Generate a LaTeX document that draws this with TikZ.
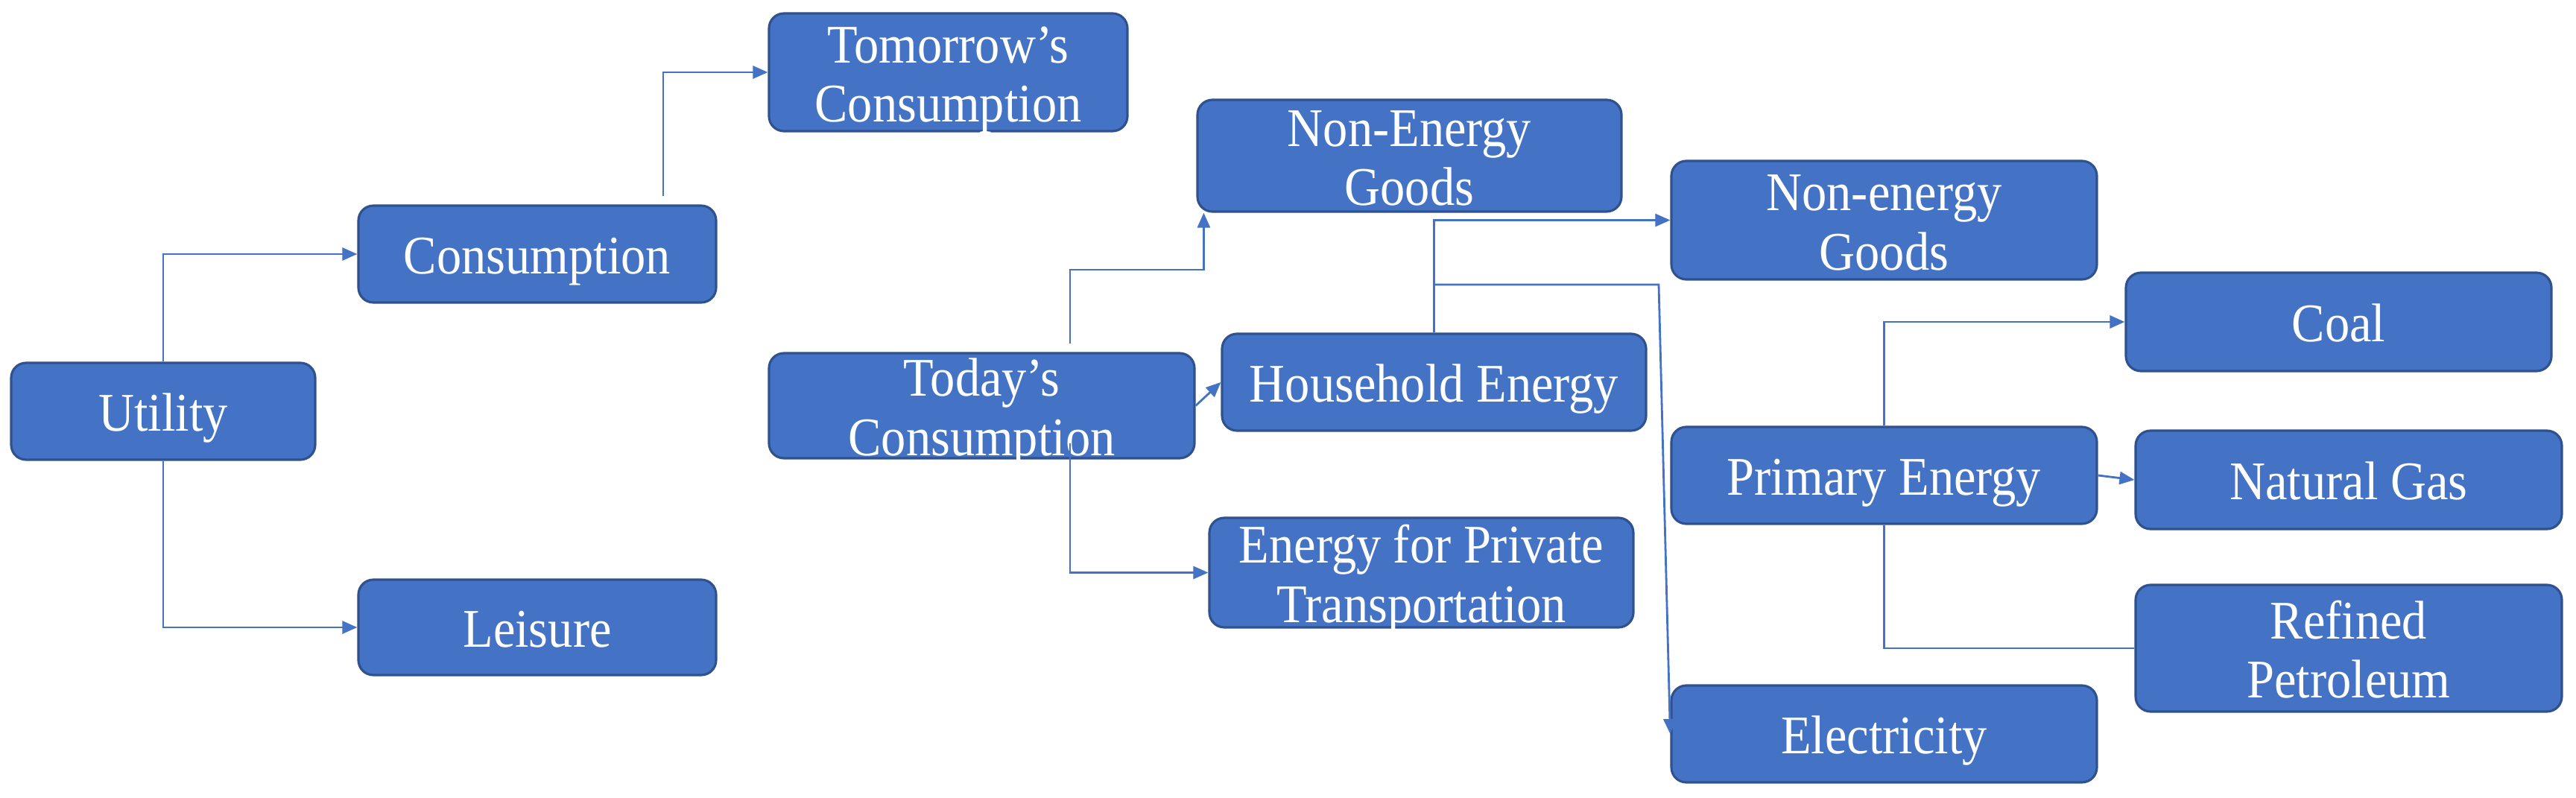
\documentclass[tikz,border=0pt]{standalone}
\usepackage{fontspec}
\setmainfont{Liberation Serif}
\usepackage{graphicx}
\usepackage{tikz}
\usetikzlibrary{arrows.meta,positioning,calc}
\definecolor{boxblue}{HTML}{4472C4}
\definecolor{boxedge}{HTML}{2F528F}
% box text: slightly tall letters, set a little low, box size given by the node
\newcommand{\boxtext}[1]{\raisebox{-0.11cm}[\dimexpr\height-\depth\relax][0pt]{\scalebox{1}[1.1]{\begin{tabular}{@{}c@{}}#1\end{tabular}}}}

\begin{document}
\begin{tikzpicture}[
    box/.style = {draw=boxedge, line width=0.9pt, fill=boxblue, rounded corners=0.2cm,
        text=white, inner sep=0pt, minimum height=1.3cm,
        font=\fontsize{18.9}{20.6}\selectfont},
    link/.style = {draw=boxblue, line width=0.8pt, -{Triangle[length=0.2cm,width=0.17cm]}},
    plain/.style = {draw=boxblue, line width=0.8pt}]
\useasboundingbox (0,0) rectangle (34.57,10.70);

\node[box, minimum width=4.08cm] (utility) at (2.19,5.18) {\boxtext{Utility}};
\node[box, minimum width=4.80cm] (consumption) at (7.21,7.29) {\boxtext{Consumption}};
\node[box, minimum width=4.80cm, minimum height=1.28cm] (leisure) at (7.21,2.28) {\boxtext{Leisure}};
\node[box, minimum width=4.81cm, minimum height=1.58cm] (tomorrow) at (12.725,9.73) {\boxtext{Tomorrow’s\\Consumption}};
\node[box, minimum width=5.71cm, minimum height=1.41cm] (today) at (13.175,5.255) {\boxtext{Today’s\\Consumption}};
\node[box, minimum width=5.69cm, minimum height=1.50cm] (goods) at (18.915,8.61) {\boxtext{Non-Energy\\Goods}};
\node[box, minimum width=5.69cm] (household) at (19.245,5.57) {\boxtext{Household Energy}};
\node[box, minimum width=5.69cm, minimum height=1.47cm] (transport) at (19.075,3.015) {\boxtext{Energy for Private\\Transportation}};
\node[box, minimum width=5.71cm, minimum height=1.59cm] (hgoods) at (25.285,7.745) {\boxtext{Non-energy\\Goods}};
\node[box, minimum width=5.71cm] (primary) at (25.285,4.32) {\boxtext{Primary Energy}};
\node[box, minimum width=5.71cm] (electricity) at (25.285,0.85) {\boxtext{Electricity}};
\node[box, minimum width=5.71cm, minimum height=1.32cm] (coal) at (31.385,6.38) {\boxtext{Coal}};
\node[box, minimum width=5.72cm, minimum height=1.32cm] (gas) at (31.52,4.26) {\boxtext{Natural Gas}};
\node[box, minimum width=5.72cm, minimum height=1.70cm] (petroleum) at (31.52,2.00) {\boxtext{Refined\\Petroleum}};

\coordinate (c_up) at (8.90,8.07);
\coordinate (t_up) at (14.36,6.09);
\coordinate (t_down) at (14.36,4.75);
\coordinate (h_split) at (19.25,6.88);
\coordinate (g_in) at ($(goods.south west)+(0.10,0)$);

\draw[link] (utility.north) |- (consumption.west);
\draw[link] (utility.south) |- (leisure.west);
\draw[link] (c_up) |- (tomorrow.west);
\draw[link] (t_up) -- (14.36,7.08) -| (g_in);
\draw[link] (today.east) -- (household.west);
\draw[link] (t_down) |- (transport.west);
\draw[link] (household.north) |- (hgoods.west);
\draw[link] (h_split) -- (22.26,6.88) -- (electricity.west);
\draw[link] (primary.north) |- (coal.west);
\draw[link] (primary.east) -- (gas.west);
\draw[plain] (primary.south) |- (petroleum.west);
\end{tikzpicture}
\end{document}
